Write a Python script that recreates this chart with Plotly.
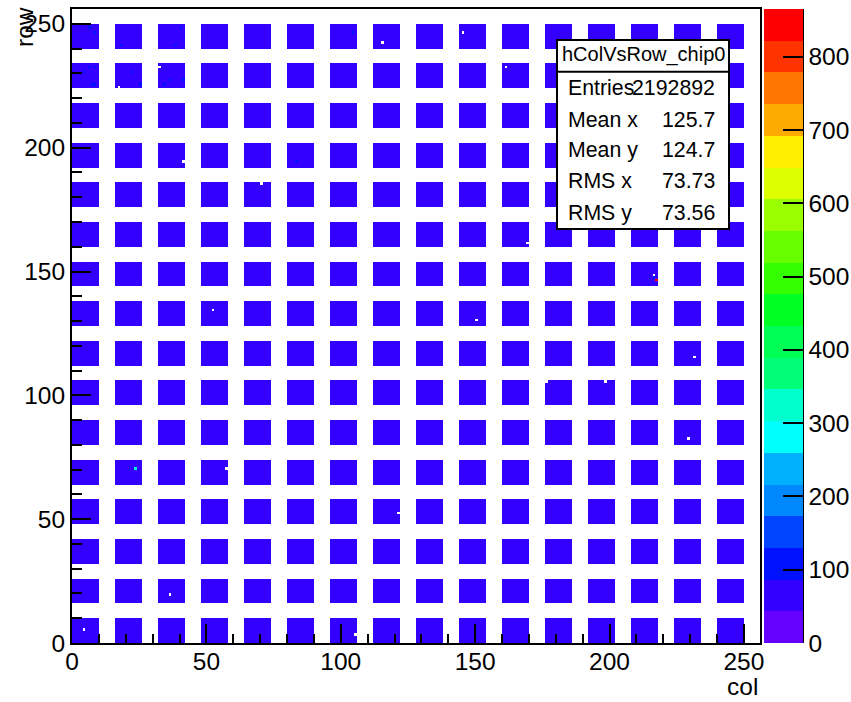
import numpy as np
import plotly.graph_objects as go

# ---------------- data ----------------
n_bins = 256
block_starts = [0, 16, 32, 48, 64, 80, 96, 112, 128, 144, 160, 176, 192, 208, 224, 240]
block_width = 10          # columns/rows filled in each 16-wide cell
block_level = 70          # typical hits per pixel inside a block

# pixels with a higher count (col, row, count)
bright_pixels = [
    (6, 248, 100), (8, 246, 100), (18, 241, 100), (40, 248, 100), (38, 241, 100),
    (4, 230, 100), (6, 232, 100), (8, 232, 100), (7, 225, 100), (8, 225, 100),
    (22, 230, 100), (25, 225, 100), (36, 227, 100), (41, 227, 100), (34, 225, 100),
    (104, 246, 110), (83, 194, 100), (216, 147, 120), (23, 70, 320), (217, 146, 865),
]
# dead pixels (col, row)
dead_pixels = [
    (115, 242), (145, 246), (17, 224), (32, 232), (161, 232), (70, 185), (41, 194),
    (169, 161), (52, 134), (150, 130), (176, 105), (198, 105), (229, 82), (57, 70),
    (121, 52), (105, 3), (231, 115), (216, 148), (4, 5), (36, 19),
]
z_max = 865
cbar_ticks = [0, 100, 200, 300, 400, 500, 600, 700, 800]
axis_ticks = [0, 50, 100, 150, 200, 250]
palette = [
    "#6600ff", "#3300ff", "#0011ff", "#0044ff", "#0088ff", "#00b0ff", "#00ffff",
    "#00ffcc", "#00ff77", "#00ff55", "#00ff22", "#33ff00", "#66ff00", "#99ff00",
    "#ddff00", "#ffee00", "#ffaa00", "#ff7700", "#ff3300", "#ff0000",
]
stats_title = "hColVsRow_chip0"
stats_labels = ["Entries", "Mean x", "Mean y", "RMS x", "RMS y"]
stats_values = ["2192892", "125.7", "124.7", "73.73", "73.56"]

# ---------------- build histogram ----------------
z = np.full((n_bins, n_bins), np.nan)
for r0 in block_starts:
    for c0 in block_starts:
        z[r0:r0 + block_width, c0:c0 + block_width] = block_level
for c, r, v in bright_pixels:
    z[r, c] = v
for c, r in dead_pixels:
    z[r, c] = np.nan
centers = np.arange(n_bins) + 0.5

ncol = len(palette)
colorscale = []
for i, col in enumerate(palette):
    colorscale.append([i / ncol, col])
    colorscale.append([(i + 1) / ncol, col])

# ---------------- layout helpers ----------------
W, H = 851, 702
L, R, T, B = 72, 91, 9, 59
pw, ph = W - L - R, H - T - B
def px(x):
    return (x - L) / pw
def py(y):
    return (H - B - y) / ph

FONT = "Liberation Sans, Arial, Helvetica, sans-serif"
fs = 24.5

fig = go.Figure(go.Heatmap(
    x=centers, y=centers, z=z, zmin=0, zmax=z_max, zsmooth=False,
    colorscale=colorscale, hoverongaps=False,
    colorbar=dict(
        x=px(764), xanchor="left", y=0.5, yanchor="middle", len=1, lenmode="fraction",
        thickness=39, thicknessmode="pixels", xpad=0, ypad=0, outlinewidth=0,
        tickvals=cbar_ticks, ticks="inside", ticklen=20, tickwidth=2, tickcolor="black",
        tickfont=dict(family=FONT, size=fs, color="black"),
    ),
))

axis_common = dict(
    range=[0, n_bins], tickvals=axis_ticks, ticks="inside", ticklen=19, tickwidth=2,
    tickcolor="black", showline=True, linecolor="black", linewidth=2, mirror=True,
    showgrid=False, zeroline=False,
    tickfont=dict(family=FONT, size=fs, color="black"),
    minor=dict(dtick=10, tick0=0, ticks="inside", ticklen=9.5, tickwidth=2, tickcolor="black", showgrid=False),
)
fig.update_layout(
    width=W, height=H, margin=dict(l=L, r=R, t=T, b=B, autoexpand=False),
    paper_bgcolor="white", plot_bgcolor="white",
    xaxis=dict(axis_common, ticklabelstandoff=-4), yaxis=dict(axis_common, ticklabelstandoff=0),
    showlegend=False,
)

shapes = [
    # colour bar right axis line
    dict(type="line", xref="paper", yref="paper", x0=px(803), x1=px(803), y0=0, y1=1,
         line=dict(color="black", width=2)),
    # stats box
    dict(type="rect", xref="paper", yref="paper", x0=px(557), x1=px(729), y0=py(40), y1=py(229),
         line=dict(color="black", width=2), fillcolor="white", layer="above"),
    dict(type="line", xref="paper", yref="paper", x0=px(557), x1=px(729), y0=py(71.7), y1=py(71.7),
         line=dict(color="black", width=2), layer="above"),
]
annotations = [
    dict(text="row", xref="paper", yref="paper", x=px(24), y=py(27), textangle=-90,
         xanchor="center", yanchor="middle", showarrow=False,
         font=dict(family=FONT, size=fs, color="black")),
    dict(text="col", xref="paper", yref="paper", x=px(760), y=py(686),
         xanchor="right", yanchor="middle", showarrow=False,
         font=dict(family=FONT, size=fs, color="black")),
    dict(text=stats_title, xref="paper", yref="paper", x=px(643), y=py(55),
         xanchor="center", yanchor="middle", showarrow=False,
         font=dict(family=FONT, size=20, color="black")),
]
row_y = [87.5, 120, 150, 181, 212.5]
for lab, val, yy in zip(stats_labels, stats_values, row_y):
    annotations.append(dict(text=lab, xref="paper", yref="paper", x=px(566), y=py(yy),
                            xanchor="left", yanchor="middle", showarrow=False,
                            font=dict(family=FONT, size=21.3, color="black")))
    annotations.append(dict(text=val, xref="paper", yref="paper", x=px(717), y=py(yy),
                            xanchor="right", yanchor="middle", showarrow=False,
                            font=dict(family=FONT, size=21.3, color="black")))
fig.update_layout(shapes=shapes, annotations=annotations)

fig.write_html(
    "out.html",
    config={"displayModeBar": False},
    post_script="document.body.style.margin='0';document.body.style.overflow='hidden';",
)
